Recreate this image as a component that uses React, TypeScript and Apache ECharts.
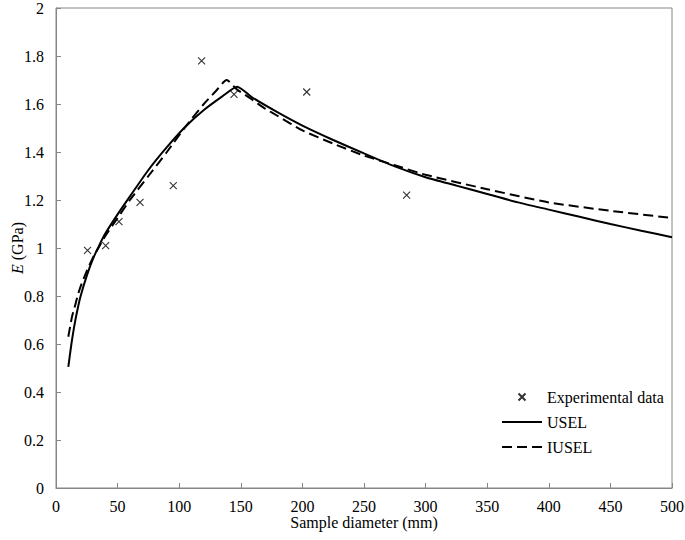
import React, { useEffect, useRef } from "react";
import * as echarts from "echarts";

const expX = [25.6, 40.3, 51.1, 68.2, 95.2, 118.2, 144.5, 203.5, 284.6];
const expY = [0.99, 1.01, 1.11, 1.19, 1.26, 1.78, 1.64, 1.65, 1.22];

const uselX = [10, 12.5, 15, 17.5, 20, 25, 30, 35, 40, 50, 60, 75, 90, 105, 120, 135, 147, 160, 180, 200, 225, 250, 275, 300, 325, 350, 375, 400, 425, 450, 475, 500];
const uselY = [0.505, 0.6, 0.68, 0.745, 0.8, 0.885, 0.955, 1.01, 1.06, 1.14, 1.215, 1.325, 1.42, 1.505, 1.575, 1.632, 1.672, 1.625, 1.565, 1.51, 1.45, 1.394, 1.34, 1.295, 1.26, 1.225, 1.19, 1.16, 1.13, 1.1, 1.072, 1.045];

const iuselX = [10, 13, 15, 17.5, 20, 25, 30, 35, 40, 50, 60, 75, 90, 105, 120, 130, 138.5, 147, 156, 170, 180, 200, 225, 250, 275, 300, 350, 400, 450, 500];
const iuselY = [0.63, 0.714, 0.75, 0.8, 0.84, 0.905, 0.96, 1.005, 1.05, 1.125, 1.2, 1.3, 1.4, 1.505, 1.6, 1.655, 1.7, 1.66, 1.63, 1.58, 1.55, 1.49, 1.435, 1.385, 1.345, 1.305, 1.245, 1.19, 1.155, 1.125];

const xTicks = { min: 0, max: 500, interval: 50 };
const yTicks = { min: 0, max: 2, interval: 0.2 };

const FONT = "'Liberation Serif', 'Times New Roman', serif";
const AXIS_COLOR = "#868686";

export default function App() {
  const ref = useRef<HTMLDivElement>(null);
  useEffect(() => {
    if (!ref.current) return;
    const chart = echarts.init(ref.current, undefined, { renderer: "svg" });
    const zip = (xs: number[], ys: number[]) => xs.map((x, i) => [x, ys[i]]);
    chart.setOption({
      animation: false,
      textStyle: { fontFamily: FONT, color: "#000" },
      grid: {
        left: 56,
        right: 13,
        top: 8,
        bottom: 52,
        show: true,
        borderColor: AXIS_COLOR,
        borderWidth: 1,
        containLabel: false,
        outerBoundsMode: "none",
      },
      legend: {
        orient: "vertical",
        left: 496,
        top: 384,
        itemWidth: 40,
        itemHeight: 7,
        itemGap: 9,
        textStyle: { fontFamily: FONT, fontSize: 16, color: "#000" },
        data: [
          { name: "Experimental data" },
          { name: "USEL", itemStyle: { opacity: 0 } },
          { name: "IUSEL", itemStyle: { opacity: 0 } },
        ],
      },
      xAxis: {
        type: "value",
        ...xTicks,
        name: "Sample diameter (mm)",
        nameLocation: "middle",
        nameGap: 26,
        nameMoveOverlap: false,
        nameTextStyle: { fontFamily: FONT, fontSize: 16, color: "#000" },
        axisLine: { show: true, lineStyle: { color: AXIS_COLOR } },
        axisTick: { show: true, inside: true, length: 5, lineStyle: { color: AXIS_COLOR } },
        axisLabel: { fontFamily: FONT, fontSize: 16, color: "#000", margin: 10 },
        splitLine: { show: false },
      },
      yAxis: {
        type: "value",
        ...yTicks,
        name: "{i|E} (GPa)",
        nameLocation: "middle",
        nameGap: 31,
        nameRotate: 90,
        nameMoveOverlap: false,
        nameTextStyle: {
          fontFamily: FONT,
          fontSize: 16,
          color: "#000",
          rich: { i: { fontStyle: "italic", fontFamily: FONT, fontSize: 16, color: "#000" } },
        },
        axisLine: { show: true, lineStyle: { color: AXIS_COLOR } },
        axisTick: { show: true, inside: true, length: 5, lineStyle: { color: AXIS_COLOR } },
        axisLabel: { fontFamily: FONT, fontSize: 16, color: "#000", margin: 12 },
        splitLine: { show: false },
      },
      series: [
        {
          name: "Experimental data",
          type: "scatter",
          data: zip(expX, expY),
          symbol: "path://M0,0L10,10M10,0L0,10",
          symbolSize: 7,
          itemStyle: { color: "#fff", opacity: 1, borderColor: "#333", borderWidth: 1.1 },
        },
        {
          name: "USEL",
          type: "line",
          data: zip(uselX, uselY),
          smooth: 0.2,
          symbol: "none",
          lineStyle: { color: "#000", width: 2, type: "solid" },
          itemStyle: { color: "#000" },
        },
        {
          name: "IUSEL",
          type: "line",
          data: zip(iuselX, iuselY),
          smooth: 0.2,
          symbol: "none",
          lineStyle: { color: "#000", width: 2, type: [10, 5] },
          itemStyle: { color: "#000" },
        },
      ],
    });
    return () => chart.dispose();
  }, []);
  return (
    <div
      ref={ref}
      style={{ position: "fixed", left: 0, top: 0, width: 685, height: 540, background: "#fff" }}
    />
  );
}
